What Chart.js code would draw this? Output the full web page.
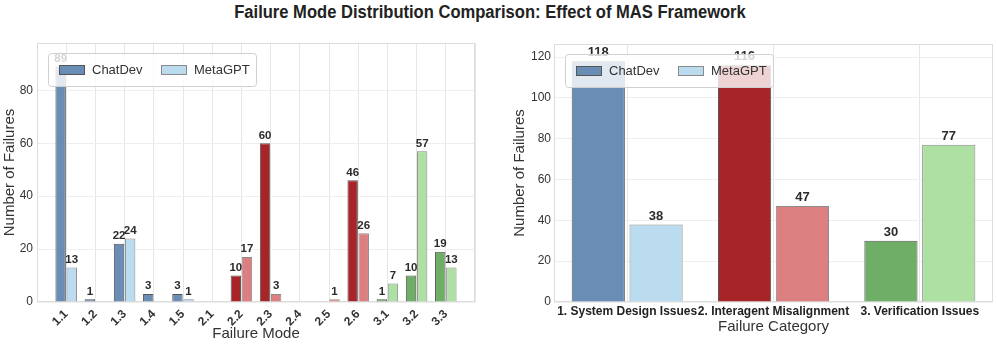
<!DOCTYPE html>
<html>
<head>
<meta charset="utf-8">
<script src="https://cdn.jsdelivr.net/npm/chart.js@4.4.1/dist/chart.umd.min.js"></script>
<style>
  body { margin: 0; background: #fff; width: 997px; height: 346px; overflow: hidden; position: relative; }
  #title { position: absolute; top: 0; left: 0; width: 980px; text-align: center;
           font: bold 18px "Liberation Sans", Arial, sans-serif; color: #222; line-height: 24px;
           transform: scaleX(0.92); transform-origin: 490px 0; }
  #left { position: absolute; left: 0; top: 0; }
  #right { position: absolute; left: 497px; top: 0; }
</style>
</head>
<body>
<div id="title">Failure Mode Distribution Comparison: Effect of MAS Framework</div>
<canvas id="left" width="497" height="346"></canvas>
<canvas id="right" width="500" height="346"></canvas>
<script>
const modes = ['1.1', '1.2', '1.3', '1.4', '1.5', '2.1', '2.2', '2.3', '2.4', '2.5', '2.6', '3.1', '3.2', '3.3'];
const chatdevModes = [89, 1, 22, 3, 3, 0, 10, 60, 0, 0, 46, 1, 10, 19];
const metagptModes = [13, 0, 24, 0, 1, 0, 17, 3, 0, 1, 26, 7, 57, 13];

const categories = ['1. System Design Issues', '2. Interagent Misalignment', '3. Verification Issues'];
const chatdevCats = [118, 116, 30];
const metagptCats = [38, 47, 77];

const frameworks = ['ChatDev', 'MetaGPT'];

// colours per failure group: [ChatDev, MetaGPT]
const groupColors = {
    '1': ['#6a8db5', '#bbdbee'],
    '2': ['#a72528', '#dc7f80'],
    '3': ['#6fae67', '#aedfa3']
};
const edgeColors = ['#555555', '#8a8a8a'];

Chart.defaults.font.family = '"Liberation Sans", Arial, sans-serif';
Chart.defaults.color = '#333';
Chart.defaults.animation = false;

// numbers over the bars
const valueLabels = {
    id: 'valueLabels',
    afterDatasetsDraw(chart, args, opts) {
        const ctx = chart.ctx;
        ctx.save();
        ctx.font = 'bold ' + opts.size + 'px "Liberation Sans", Arial, sans-serif';
        ctx.fillStyle = '#2b2b2b';
        ctx.textAlign = 'center';
        ctx.textBaseline = 'bottom';
        chart.data.datasets.forEach((ds, i) => {
            chart.getDatasetMeta(i).data.forEach((bar, j) => {
                const v = ds.data[j];
                if (v == null || v <= 0) return;
                ctx.fillText(v, bar.x, bar.y - 2);
            });
        });
        ctx.restore();
    }
};

// frame + legend box inside the plot
const frameLegend = {
    id: 'frameLegend',
    beforeDatasetsDraw(chart) {
        const a = chart.chartArea;
        const ctx = chart.ctx;
        ctx.save();
        ctx.strokeStyle = '#dddddd';
        ctx.lineWidth = 1;
        ctx.strokeRect(a.left + 0.5, a.top + 0.5, a.right - a.left - 1, a.bottom - a.top - 1);
        ctx.restore();
    },
    afterDraw(chart) {
        const a = chart.chartArea;
        const ctx = chart.ctx;
        const x = a.left + 11, y = a.top + 10, w = 208, h = 33;
        ctx.save();
        ctx.fillStyle = 'rgba(255,255,255,0.8)';
        ctx.strokeStyle = '#d0d0d0';
        ctx.lineWidth = 1;
        ctx.beginPath();
        ctx.roundRect(x + 0.5, y + 0.5, w, h, 3);
        ctx.fill();
        ctx.stroke();
        ctx.font = '13px "Liberation Sans", Arial, sans-serif';
        ctx.textBaseline = 'middle';
        ctx.fillStyle = '#333';
        frameworks.forEach((name, i) => {
            const sx = x + 11 + i * 102;
            ctx.fillStyle = groupColors['1'][i];
            ctx.fillRect(sx, y + 12, 25, 9);
            ctx.strokeStyle = edgeColors[i];
            ctx.strokeRect(sx + 0.5, y + 12.5, 25, 9);
            ctx.fillStyle = '#333';
            ctx.fillText(name, sx + 33, y + 17);
        });
        ctx.restore();
    }
};

function barColors(labels, k) {
    return labels.map(l => l ? groupColors[l[0]][k] : 'transparent');
}

function axisStyles(yMax, yWidth, yTitlePad, yTickPad, xHeight, xTitlePad, xTicks) {
    return {
        x: {
            offset: xTicks.offset,
            grid: { color: '#e6e6e6', offset: false, drawTicks: false },
            border: { display: false },
            ticks: xTicks.ticks,
            title: { display: true, text: xTicks.title, font: { size: 15 }, color: '#333', padding: { top: 0, bottom: xTitlePad } },
            afterFit(s) { s.height = xHeight; }
        },
        y: {
            min: 0,
            max: yMax,
            grid: { color: '#eeeeee', drawTicks: false },
            border: { display: false },
            ticks: { stepSize: 20, includeBounds: false, padding: yTickPad, font: { size: 12 }, color: '#333' },
            title: { display: true, text: 'Number of Failures', font: { size: 15 }, color: '#333', padding: { top: yTitlePad, bottom: 0 } },
            afterFit(s) { s.width = yWidth; }
        }
    };
}

// left: per failure mode, with an empty slot at each end
const modeLabels = [''].concat(modes, ['']);
const leftData = [chatdevModes, metagptModes].map(v => [null].concat(v, [null]));

new Chart(document.getElementById('left'), {
    type: 'bar',
    data: {
        labels: modeLabels,
        datasets: frameworks.map((name, k) => ({
            label: name,
            data: leftData[k],
            backgroundColor: barColors(modeLabels, k),
            borderColor: edgeColors[k],
            borderWidth: 1,
            categoryPercentage: 0.76,
            barPercentage: 0.94
        }))
    },
    options: {
        responsive: false,
        layout: { padding: { top: 43, right: 22, left: 0, bottom: 0 } },
        plugins: { legend: { display: false }, tooltip: { enabled: false }, valueLabels: { size: 11.5 } },
        scales: axisStyles(97.9, 37, 1, 4, 44, 3, {
            offset: false,
            title: 'Failure Mode',
            ticks: { minRotation: 45, maxRotation: 45, autoSkip: false, padding: 5, font: { size: 12, weight: 'bold' }, color: '#333' }
        })
    },
    plugins: [valueLabels, frameLegend]
});

// right: per failure category
new Chart(document.getElementById('right'), {
    type: 'bar',
    data: {
        labels: categories,
        datasets: frameworks.map((name, k) => ({
            label: name,
            data: k === 0 ? chatdevCats : metagptCats,
            backgroundColor: barColors(categories, k),
            borderColor: edgeColors[k],
            borderWidth: 1,
            categoryPercentage: 0.79,
            barPercentage: 0.92
        }))
    },
    options: {
        responsive: false,
        layout: { padding: { top: 44, right: 4, left: 0, bottom: 0 } },
        plugins: { legend: { display: false }, tooltip: { enabled: false }, valueLabels: { size: 13 } },
        scales: axisStyles(126.4, 57, 14, 3, 44, 10, {
            offset: true,
            title: 'Failure Category',
            ticks: { maxRotation: 0, autoSkip: false, padding: 2, font: { size: 12, weight: 'bold' }, color: '#222' }
        })
    },
    plugins: [valueLabels, frameLegend]
});
</script>
</body>
</html>
